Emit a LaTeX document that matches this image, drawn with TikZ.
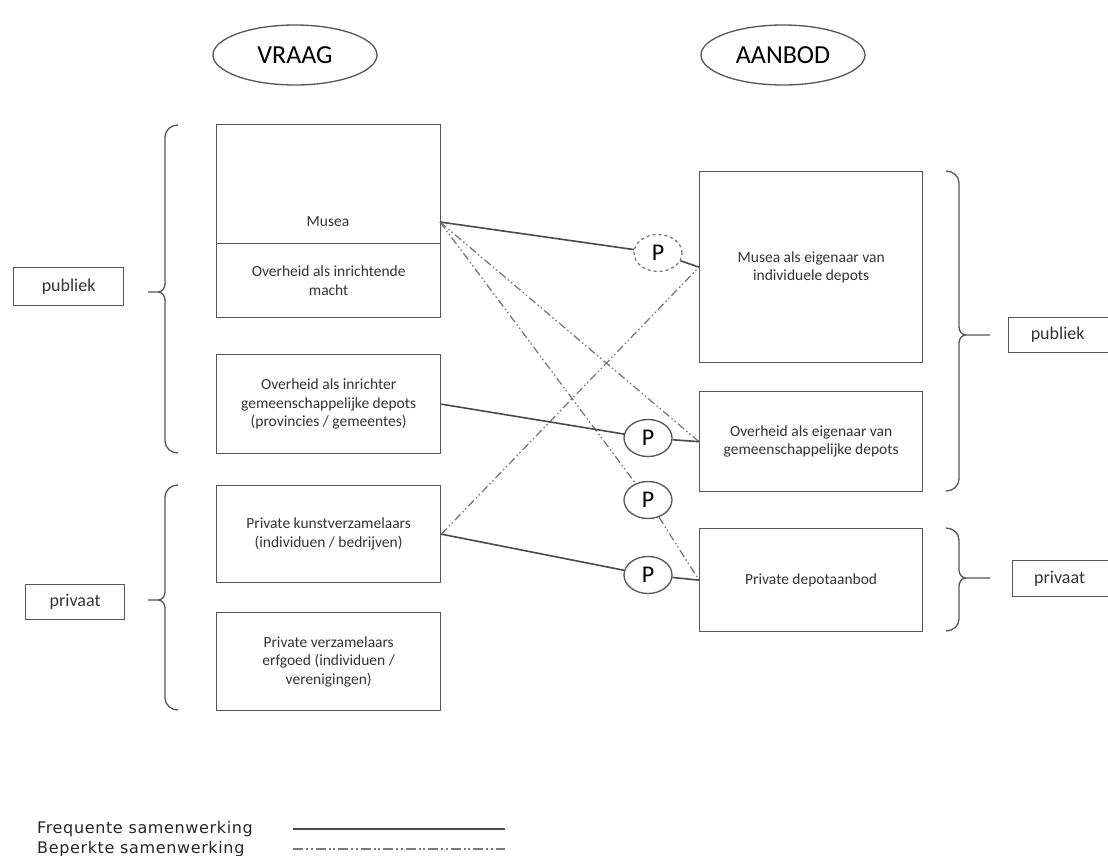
\documentclass[tikz,border=0pt]{standalone}
\usepackage{fontspec}
\setmainfont{Carlito}
\newfontfamily\legendfont[LetterSpace=4]{DejaVu Sans}
\usetikzlibrary{shapes.geometric}
\definecolor{boxgray}{HTML}{555555}
\definecolor{linegray}{HTML}{4A4A4A}
\definecolor{dashgray}{HTML}{7A7A7A}
\definecolor{txtgray}{HTML}{333333}
\begin{document}
\begin{tikzpicture}[x=1pt,y=-1pt,
  box/.style={draw=boxgray, line width=1.3pt, inner sep=0pt, align=center, text=txtgray,
    font=\fontsize{15.5}{18.5}\selectfont},
  plain/.style={inner sep=0pt, align=center, text=txtgray, font=\fontsize{15.5}{18.5}\selectfont},
  lbl/.style={draw=boxgray, line width=1.3pt, inner sep=0pt, text=txtgray,
    font=\fontsize{18}{20}\selectfont},
  title/.style={ellipse, draw=boxgray, line width=1.3pt, inner sep=0pt, text=black,
    minimum width=164pt, minimum height=60pt, font=\fontsize{26}{30}\selectfont},
  pnode/.style={ellipse, draw=boxgray, line width=1.3pt, fill=white, inner sep=0pt,
    minimum width=48pt, minimum height=37pt, font=\fontsize{24}{26}\selectfont},
  freq/.style={draw=linegray, line width=1.6pt},
  bep/.style={draw=dashgray, line width=1.3pt,
    dash pattern=on 8pt off 3pt on 1.5pt off 2.5pt on 1.5pt off 3pt},
  legbep/.style={draw=dashgray, line width=1.6pt,
    dash pattern=on 10pt off 3pt on 2pt off 2.5pt on 2pt off 3pt},
  brace/.style={draw=boxgray, line width=1.3pt},
  legend/.style={font=\legendfont\fontsize{16}{17}\selectfont, text=black!85, anchor=west, inner sep=0pt}]
\useasboundingbox (0,0) rectangle (1108,856);
\clip (0,0) rectangle (1108,856);

% titles
\node[title] (vraag) at (295,55) {VRAAG};
\node[title] (aanbod) at (783,55) {AANBOD};

% left boxes
\node[box, minimum width=224pt, minimum height=119pt, anchor=north west] (musea) at (216,124) {};
\node[plain] (museatxt) at (328,222) {Musea};
\node[box, minimum width=224pt, minimum height=74pt, anchor=north west] (overheidmacht) at (216,243)
  {Overheid als inrichtende\\macht};
\node[box, minimum width=224pt, minimum height=99pt, anchor=north west] (overheidinr) at (216,354)
  {Overheid als inrichter\\gemeenschappelijke depots\\(provincies / gemeentes)};
\node[box, minimum width=224pt, minimum height=97pt, anchor=north west] (kunst) at (216,485)
  {Private kunstverzamelaars\\(individuen / bedrijven)};
\node[box, minimum width=224pt, minimum height=98pt, anchor=north west] (erfgoed) at (216,612)
  {Private verzamelaars\\erfgoed (individuen /\\verenigingen)};

% right boxes
\node[box, minimum width=223pt, minimum height=191pt, anchor=north west] (museaE) at (699,171)
  {Musea als eigenaar van\\individuele depots};
\node[box, minimum width=223pt, minimum height=100pt, anchor=north west] (overheidE) at (699,391)
  {Overheid als eigenaar van\\gemeenschappelijke depots};
\node[box, minimum width=223pt, minimum height=103pt, anchor=north west] (privE) at (699,528)
  {Private depotaanbod};

% side labels
\node[lbl, minimum width=110pt, minimum height=38pt, anchor=north west] (publiekL) at (13,267) {publiek};
\node[lbl, minimum width=99pt, minimum height=35pt, anchor=north west] (privaatL) at (25,584) {privaat};
\node[lbl, minimum width=110pt, minimum height=35pt, anchor=north west] (publiekR) at (1008,317) {\hspace*{-12pt}publiek};
\node[lbl, minimum width=106pt, minimum height=36pt, anchor=north west] (privaatR) at (1012,560) {\hspace*{-12pt}privaat};

% braces
\path[brace] (178,125) to[out=180,in=90] (165,137) -- (165,284) to[out=270,in=0] (158,292)
  -- (148,292) (158,292) to[out=0,in=90] (165,300) -- (165,441) to[out=270,in=180] (178,453);
\path[brace] (178,485) to[out=180,in=90] (165,497) -- (165,592) to[out=270,in=0] (158,600)
  -- (148,600) (158,600) to[out=0,in=90] (165,608) -- (165,698) to[out=270,in=180] (178,710);
\path[brace] (946,171) to[out=0,in=90] (959,183) -- (959,327) to[out=270,in=180] (966,335)
  -- (990,335) (966,335) to[out=180,in=90] (959,343) -- (959,479) to[out=270,in=0] (946,491);
\path[brace] (946,528) to[out=0,in=90] (959,540) -- (959,570) to[out=270,in=180] (966,578)
  -- (990,578) (966,578) to[out=180,in=90] (959,586) -- (959,619) to[out=270,in=0] (946,631);

% connector points
\coordinate (museaR) at (440,222);

% P nodes
\node[pnode, dashed, draw=dashgray] (p1) at (658,253) {P};
\node[pnode] (p2) at (648,438) {P};
\node[pnode] (p3) at (648,500) {P};
\node[pnode] (p4) at (648,575) {P};

% beperkte samenwerking
\draw[bep] (museaR) -- (overheidE.west);
\draw[bep] (museaR) -- (p3);
\draw[bep] (p3) -- (privE.west);
\draw[bep] (kunst.east) -- (museaE.west);

% frequente samenwerking
\draw[freq] (museaR) -- (p1);
\draw[freq] (p1) -- (museaE.west);
\draw[freq] (overheidinr.east) -- (p2);
\draw[freq] (p2) -- (overheidE.west);
\draw[freq] (kunst.east) -- (p4);
\draw[freq] (p4) -- (privE.west);

% legend
\node[legend] (l1) at (37,829) {Frequente samenwerking};
\node[legend] (l2) at (37,849) {Beperkte samenwerking};
\coordinate (l1a) at (293,829); \coordinate (l1b) at (505,829);
\coordinate (l2a) at (293,849); \coordinate (l2b) at (505,849);
\draw[freq] (l1a) -- (l1b);
\draw[legbep] (l2a) -- (l2b);
\end{tikzpicture}
\end{document}
